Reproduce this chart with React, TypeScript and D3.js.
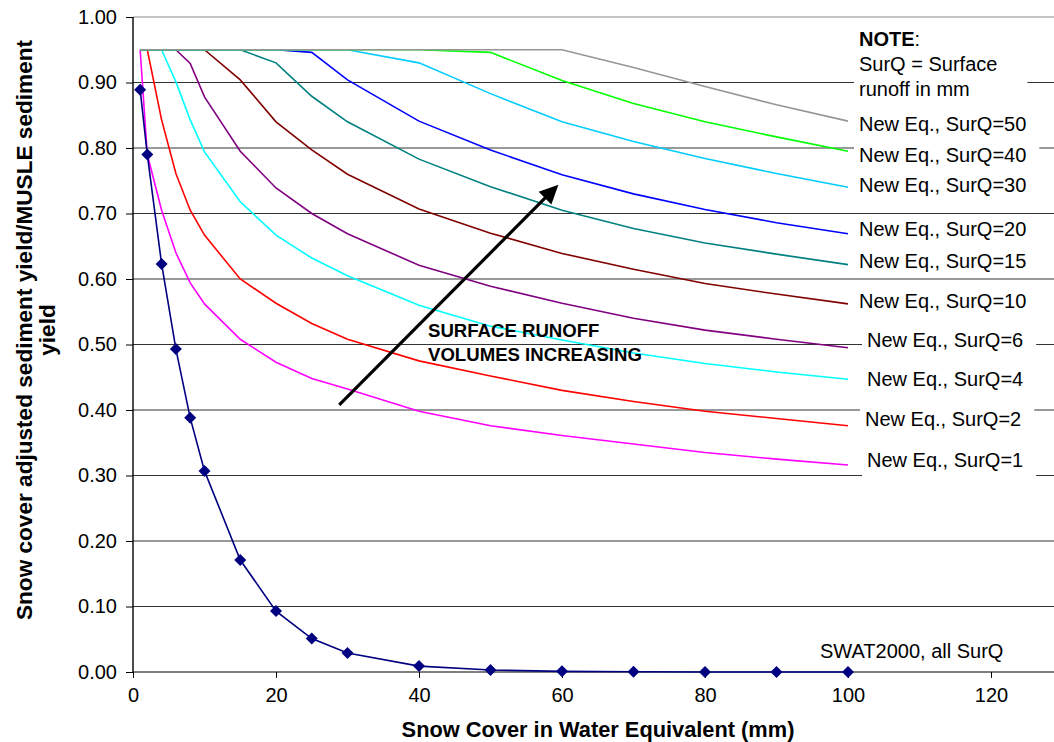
import { useEffect, useRef } from 'react'
import * as d3 from 'd3'

// snow cover in water equivalent (mm), shared x values for all series
const snowCover = [1, 2, 4, 6, 8, 10, 15, 20, 25, 30, 40, 50, 60, 70, 80, 90, 100]

// SWAT2000 ratio, same for every SurQ
const swat2000 = [0.889, 0.79, 0.623, 0.493, 0.388, 0.307, 0.171, 0.093, 0.051, 0.029, 0.009, 0.003, 0.001, 0.0003, 0.0001, 0, 0]

// new equation, one series per surface runoff (mm)
const newEqQ1 = [0.95, 0.79, 0.705, 0.64, 0.594, 0.562, 0.508, 0.473, 0.448, 0.432, 0.398, 0.376, 0.361, 0.348, 0.335, 0.325, 0.316]
const newEqQ2 = [0.95, 0.95, 0.843, 0.761, 0.705, 0.667, 0.6, 0.563, 0.532, 0.508, 0.475, 0.452, 0.43, 0.413, 0.398, 0.387, 0.376]
const newEqQ4 = [0.95, 0.95, 0.95, 0.901, 0.843, 0.794, 0.718, 0.667, 0.632, 0.605, 0.56, 0.528, 0.507, 0.487, 0.471, 0.458, 0.447]
const newEqQ6 = [0.95, 0.95, 0.95, 0.95, 0.929, 0.878, 0.795, 0.739, 0.7, 0.669, 0.621, 0.589, 0.563, 0.54, 0.522, 0.508, 0.495]
const newEqQ10 = [0.95, 0.95, 0.95, 0.95, 0.95, 0.95, 0.904, 0.84, 0.797, 0.76, 0.707, 0.67, 0.639, 0.615, 0.593, 0.577, 0.562]
const newEqQ15 = [0.95, 0.95, 0.95, 0.95, 0.95, 0.95, 0.95, 0.93, 0.879, 0.84, 0.783, 0.741, 0.705, 0.677, 0.655, 0.638, 0.622]
const newEqQ20 = [0.95, 0.95, 0.95, 0.95, 0.95, 0.95, 0.95, 0.95, 0.946, 0.904, 0.841, 0.797, 0.759, 0.73, 0.706, 0.686, 0.669]
const newEqQ30 = [0.95, 0.95, 0.95, 0.95, 0.95, 0.95, 0.95, 0.95, 0.95, 0.95, 0.93, 0.883, 0.84, 0.81, 0.784, 0.761, 0.74]
const newEqQ40 = [0.95, 0.95, 0.95, 0.95, 0.95, 0.95, 0.95, 0.95, 0.95, 0.95, 0.95, 0.946, 0.903, 0.868, 0.84, 0.817, 0.795]
const newEqQ50 = [0.95, 0.95, 0.95, 0.95, 0.95, 0.95, 0.95, 0.95, 0.95, 0.95, 0.95, 0.95, 0.95, 0.923, 0.894, 0.866, 0.841]

const surQLevels = [1, 2, 4, 6, 10, 15, 20, 30, 40, 50]
const newEqSeries = [newEqQ1, newEqQ2, newEqQ4, newEqQ6, newEqQ10, newEqQ15, newEqQ20, newEqQ30, newEqQ40, newEqQ50]
const seriesColors = ['#ff00ff', '#ff0000', '#00ffff', '#800080', '#800000', '#008080', '#0000ff', '#00ccff', '#00ff00', '#969696']
// label offsets from the last point, px [dx, dy]
const labelNudge = [[19, 2], [17, 0], [19, 7], [19, -1], [11, 4], [11, 3], [11, 2], [11, 5], [11, 11], [11, 10]]

const xTicks = [0, 20, 40, 60, 80, 100, 120]
const yTicks = [0, 0.1, 0.2, 0.3, 0.4, 0.5, 0.6, 0.7, 0.8, 0.9, 1.0]

const noteLines = ['SurQ = Surface', 'runoff in mm']
const arrowText = ['SURFACE RUNOFF', 'VOLUMES INCREASING']
// arrow in data units [x, y]
const arrowFrom = [28.85, 0.408]
const arrowTo = [59.5, 0.744]

const FONT = "'Liberation Sans', Arial, Helvetica, sans-serif"

const App = () => {
  const ref = useRef<SVGSVGElement>(null)

  useEffect(() => {
    const svg = d3.select(ref.current)
    svg.selectAll('*').remove()

    const left = 133
    const top = 17
    const bottom = 672

    const x = d3.scaleLinear().domain([0, 130]).range([left, left + 130 * 7.15])
    const y = d3.scaleLinear().domain([0, 1]).range([bottom, top])

    // gridlines
    svg
      .append('g')
      .selectAll('line')
      .data(yTicks.filter((d) => d > 0))
      .enter()
      .append('line')
      .attr('x1', left)
      .attr('x2', 1054)
      .attr('y1', (d) => y(d))
      .attr('y2', (d) => y(d))
      .attr('stroke', (d) => (d === 1 ? '#8a8a8a' : '#333'))
      .attr('stroke-width', 1)

    // white boxes behind the labels get filled in after text is measured
    const boxLayer = svg.append('g')

    // axes
    const yAxis = d3
      .axisLeft(y)
      .tickValues(yTicks)
      .tickFormat(d3.format('.2f'))
      .tickSize(7)
      .tickPadding(9)
    const xAxis = d3.axisBottom(x).tickValues(xTicks).tickFormat(d3.format('d')).tickSize(6).tickPadding(10)

    const gy = svg.append('g').attr('transform', `translate(${left},0)`).call(yAxis)
    const gx = svg.append('g').attr('transform', `translate(0,${bottom})`).call(xAxis)
    ;[gx, gy].forEach((g) => {
      g.select('.domain').remove()
      g.selectAll('line').attr('stroke', '#000')
      g.selectAll('text').attr('font-family', FONT).attr('font-size', 20).attr('fill', '#000')
    })
    svg.append('line').attr('x1', left).attr('x2', left).attr('y1', top).attr('y2', bottom).attr('stroke', '#000').attr('stroke-width', 1.4)
    svg.append('line').attr('x1', left).attr('x2', 1054).attr('y1', bottom).attr('y2', bottom).attr('stroke', '#000').attr('stroke-width', 1.2)

    // series
    const lineGen = d3
      .line<number>()
      .x((_, i) => x(snowCover[i]))
      .y((d) => y(d))

    newEqSeries.forEach((s, i) => {
      svg
        .append('path')
        .datum(s)
        .attr('fill', 'none')
        .attr('stroke', seriesColors[i])
        .attr('stroke-width', 1.6)
        .attr('d', lineGen)
    })

    svg
      .append('path')
      .datum(swat2000)
      .attr('fill', 'none')
      .attr('stroke', '#000080')
      .attr('stroke-width', 1.6)
      .attr('d', lineGen)

    const diamond = d3.symbol().type(d3.symbolSquare).size(72)
    svg
      .append('g')
      .selectAll('path')
      .data(swat2000)
      .enter()
      .append('path')
      .attr('d', diamond)
      .attr('transform', (d, i) => `translate(${x(snowCover[i])},${y(d)}) rotate(45)`)
      .attr('fill', '#000080')

    const boxes: { x: number; y: number; w: number; h: number }[] = []

    // series labels
    const last = snowCover.length - 1
    newEqSeries.forEach((s, i) => {
      const tx = x(snowCover[last]) + labelNudge[i][0]
      const ty = y(s[last]) + labelNudge[i][1]
      const t = svg
        .append('text')
        .attr('x', tx)
        .attr('y', ty)
        .attr('font-family', FONT)
        .attr('font-size', 20)
        .attr('fill', '#000')
        .text(`New Eq., SurQ=${surQLevels[i]}`)
      const w = (t.node() as SVGTextElement).getComputedTextLength()
      boxes.push({ x: tx - 5, y: ty - 21, w: w + 18, h: 30 })
    })

    svg
      .append('text')
      .attr('x', x(snowCover[last]) - 28)
      .attr('y', y(swat2000[last]) - 14)
      .attr('font-family', FONT)
      .attr('font-size', 20)
      .attr('fill', '#000')
      .text('SWAT2000, all SurQ')

    // note
    const noteX = x(snowCover[last]) + 11
    const note = svg.append('text').attr('font-family', FONT).attr('font-size', 20).attr('fill', '#000')
    const n0 = note.append('tspan').attr('x', noteX).attr('y', y(1) + 29)
    n0.append('tspan').attr('font-weight', 'bold').text('NOTE')
    n0.append('tspan').text(':')
    noteLines.forEach((l, i) => {
      note
        .append('tspan')
        .attr('x', noteX)
        .attr('y', y(1) + 54 + i * 25)
        .text(l)
    })
    const nb = (note.node() as SVGTextElement).getBBox()
    boxes.push({ x: noteX - 5, y: nb.y - 4, w: nb.width + 35, h: nb.height + 8 })

    boxLayer
      .selectAll('rect')
      .data(boxes)
      .enter()
      .append('rect')
      .attr('x', (d) => d.x)
      .attr('y', (d) => d.y)
      .attr('width', (d) => d.w)
      .attr('height', (d) => d.h)
      .attr('fill', '#fff')

    // arrow
    const [x0, y0] = [x(arrowFrom[0]), y(arrowFrom[1])]
    const [x1, y1] = [x(arrowTo[0]), y(arrowTo[1])]
    const len = Math.hypot(x1 - x0, y1 - y0)
    const ux = (x1 - x0) / len
    const uy = (y1 - y0) / len
    const headLen = 19
    const headHalf = 9
    const bx = x1 - ux * headLen
    const by = y1 - uy * headLen
    svg
      .append('line')
      .attr('x1', x0)
      .attr('y1', y0)
      .attr('x2', bx + ux * 2)
      .attr('y2', by + uy * 2)
      .attr('stroke', '#000')
      .attr('stroke-width', 3.2)
    svg
      .append('polygon')
      .attr(
        'points',
        [
          [x1, y1],
          [bx - uy * headHalf, by + ux * headHalf],
          [bx + uy * headHalf, by - ux * headHalf],
        ]
          .map((p) => p.join(','))
          .join(' ')
      )
      .attr('fill', '#000')

    arrowText.forEach((l, i) => {
      svg
        .append('text')
        .attr('x', 428)
        .attr('y', 337 + i * 24)
        .attr('font-family', FONT)
        .attr('font-size', 18.6)
        .attr('font-weight', 'bold')
        .attr('fill', '#000')
        .text(l)
    })

    // axis titles
    svg
      .append('text')
      .attr('x', 598)
      .attr('y', 737)
      .attr('text-anchor', 'middle')
      .attr('font-family', FONT)
      .attr('font-size', 21.8)
      .attr('font-weight', 'bold')
      .text('Snow Cover in Water Equivalent (mm)')

    const yTitle = ['Snow cover adjusted sediment yield/MUSLE sediment', 'yield']
    yTitle.forEach((l, i) => {
      svg
        .append('text')
        .attr('transform', `translate(${32 + i * 23},330) rotate(-90)`)
        .attr('text-anchor', 'middle')
        .attr('font-family', FONT)
        .attr('font-size', 22.6)
        .attr('font-weight', 'bold')
        .text(l)
    })
  }, [])

  return (
    <svg
      ref={ref}
      width={1054}
      height={742}
      style={{ position: 'absolute', left: 0, top: 0, background: '#fff' }}
    />
  )
}

export default App
